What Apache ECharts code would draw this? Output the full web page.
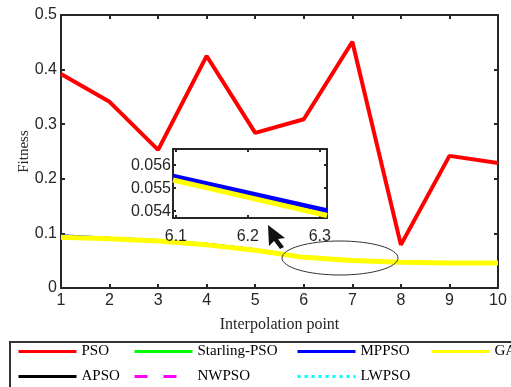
<!DOCTYPE html>
<html>
<head>
<meta charset="utf-8">
<script src="https://cdn.jsdelivr.net/npm/echarts@6/dist/echarts.min.js"></script>
<style>html,body{margin:0;padding:0;background:#fff}#main{width:511px;height:387px}</style>
</head>
<body>
<div id="main"></div>
<script>
// interpolation points 1..10
var points = [1, 2, 3, 4, 5, 6, 7, 8, 9, 10];
var pso      = [0.392, 0.341, 0.253, 0.425, 0.284, 0.309, 0.451, 0.079, 0.242, 0.229];
var starling = [0.093, 0.090, 0.086, 0.079, 0.069, 0.0562, 0.0503, 0.0471, 0.0461, 0.0461];
var mppso    = [0.0955, 0.091, 0.087, 0.080, 0.070, 0.0566, 0.0508, 0.0475, 0.0463, 0.0462];
var ga       = [0.093, 0.090, 0.086, 0.079, 0.069, 0.0561, 0.0502, 0.0470, 0.0460, 0.0460];
var apso     = [0.094, 0.0905, 0.0865, 0.0795, 0.0695, 0.0563, 0.0504, 0.0472, 0.0461, 0.0461];
var nwpso    = [0.093, 0.090, 0.086, 0.079, 0.069, 0.0562, 0.0502, 0.0471, 0.0460, 0.0460];
var lwpso    = [0.094, 0.0905, 0.0866, 0.0796, 0.0697, 0.0564, 0.0506, 0.0472, 0.0461, 0.0461];

// zoomed inset (6.1 - 6.3)
var insetX = [6.096, 6.31];
var insetMppso = [0.05552, 0.05402];
var insetGa    = [0.05535, 0.05381];
var insetXTicks = [6.1, 6.2, 6.3];
var insetYTicks = [0.054, 0.055, 0.056];

function pairs(xs, ys) {
  return xs.map(function (x, i) { return [x, ys[i]]; });
}

var axisColor = '#262626';
var sans = 'Liberation Sans';
var serif = 'Liberation Serif';

function boxAxis(gridIndex, pos, min, max, interval, extra) {
  var o = {
    gridIndex: gridIndex, type: 'value', position: pos, min: min, max: max, interval: interval,
    axisLine: { show: true, onZero: false, lineStyle: { color: axisColor, width: 2 } },
    axisTick: { show: true, inside: true, length: 4, lineStyle: { color: axisColor, width: 2 } },
    axisLabel: { show: false },
    splitLine: { show: false }
  };
  for (var k in extra) o[k] = extra[k];
  return o;
}

var chart = echarts.init(document.getElementById('main'));

function mainLine(name, data, color, width, type, z) {
  return {
    name: name, type: 'line', xAxisIndex: 0, yAxisIndex: 0, symbol: 'none', z: z,
    data: pairs(points, data),
    lineStyle: { color: color, width: width, type: type },
    itemStyle: { color: color }
  };
}

function legendAt(left, names) {
  return {
    left: left, top: 344, data: names, orient: 'vertical', padding: 0,
    itemWidth: 58, itemHeight: 16, itemGap: 10,
    itemStyle: { opacity: 0 },
    lineStyle: { width: 3 },
    textStyle: { fontFamily: serif, fontSize: 15, color: '#000' },
    selectedMode: false
  };
}

var insetLabel = { show: true, fontFamily: sans, fontSize: 16, color: axisColor };

chart.setOption({
  animation: false,
  backgroundColor: '#fff',
  grid: [
    { left: 61, right: 13, top: 15, bottom: 99 },
    { left: 173, top: 149, width: 154, height: 69, show: true, backgroundColor: '#fff', borderWidth: 0, z: 10 }
  ],
  legend: [
    legendAt(17, ['PSO', 'APSO']),
    legendAt(133, ['Starling-PSO', 'NWPSO']),
    legendAt(296, ['MPPSO', 'LWPSO']),
    legendAt(430, ['GA'])
  ],
  xAxis: [
    boxAxis(0, 'bottom', 1, 10, 1, {
      axisLabel: { show: true, margin: 5, fontFamily: sans, fontSize: 16, color: axisColor },
      name: 'Interpolation point', nameLocation: 'middle', nameGap: 29, nameMoveOverlap: false,
      nameTextStyle: { fontFamily: serif, fontSize: 16, color: axisColor }
    }),
    boxAxis(0, 'top', 1, 10, 1, {}),
    boxAxis(1, 'bottom', 6.096, 6.31, null, {
      z: 11,
      axisTick: { show: true, inside: true, length: 3, customValues: insetXTicks, lineStyle: { color: axisColor, width: 2 } },
      axisLabel: Object.assign({ margin: 11, customValues: insetXTicks }, insetLabel)
    }),
    boxAxis(1, 'top', 6.096, 6.31, null, {
      z: 11,
      axisTick: { show: true, inside: true, length: 3, customValues: insetXTicks, lineStyle: { color: axisColor, width: 2 } }
    })
  ],
  yAxis: [
    boxAxis(0, 'left', 0, 0.5, 0.1, {
      axisLabel: { show: true, margin: 4, fontFamily: sans, fontSize: 16, color: axisColor },
      name: 'Fitness', nameLocation: 'middle', nameGap: 29, nameMoveOverlap: false,
      nameTextStyle: { fontFamily: serif, fontSize: 15, color: axisColor }
    }),
    boxAxis(0, 'right', 0, 0.5, 0.1, {}),
    boxAxis(1, 'left', 0.0537, 0.0567, null, {
      z: 11,
      axisTick: { show: true, inside: true, length: 3, customValues: insetYTicks, lineStyle: { color: axisColor, width: 2 } },
      axisLabel: Object.assign({ margin: 2, customValues: insetYTicks,
        formatter: function (v) { return v.toFixed(3); } }, insetLabel)
    }),
    boxAxis(1, 'right', 0.0537, 0.0567, null, {
      z: 11,
      axisTick: { show: true, inside: true, length: 3, customValues: insetYTicks, lineStyle: { color: axisColor, width: 2 } }
    })
  ],
  series: [
    mainLine('PSO', pso, '#ff0000', 4, 'solid', 3),
    mainLine('Starling-PSO', starling, '#00ff00', 3, 'solid', 2),
    mainLine('MPPSO', mppso, '#0000ff', 3, 'solid', 2),
    mainLine('GA', ga, '#ffff00', 5, 'solid', 4),
    mainLine('APSO', apso, '#000000', 3, 'solid', 2),
    mainLine('NWPSO', nwpso, '#ff00ff', 3, [13, 16], 2),
    mainLine('LWPSO', lwpso, '#00ffff', 3, [3, 4], 2),
    {
      name: 'inset-MPPSO', type: 'line', xAxisIndex: 2, yAxisIndex: 2, symbol: 'none', z: 12,
      data: pairs(insetX, insetMppso), lineStyle: { color: '#0000ff', width: 5 }
    },
    {
      name: 'inset-GA', type: 'line', xAxisIndex: 2, yAxisIndex: 2, symbol: 'none', z: 12,
      data: pairs(insetX, insetGa), lineStyle: { color: '#ffff00', width: 5 }
    }
  ],
  graphic: [
    { type: 'ellipse', shape: { cx: 340, cy: 258, rx: 58, ry: 17 },
      style: { fill: 'none', stroke: '#333', lineWidth: 1 }, z: 20 },
    { type: 'polygon',
      shape: { points: [[268, 225], [285, 238], [278, 239], [284, 247], [280, 249], [274, 241], [269, 246]] },
      style: { fill: '#111' }, z: 20 },
    { type: 'rect', shape: { x: 10, y: 342, width: 520, height: 60 },
      style: { fill: 'none', stroke: '#333', lineWidth: 2 }, z: 1 }
  ]
});
</script>
</body>
</html>
